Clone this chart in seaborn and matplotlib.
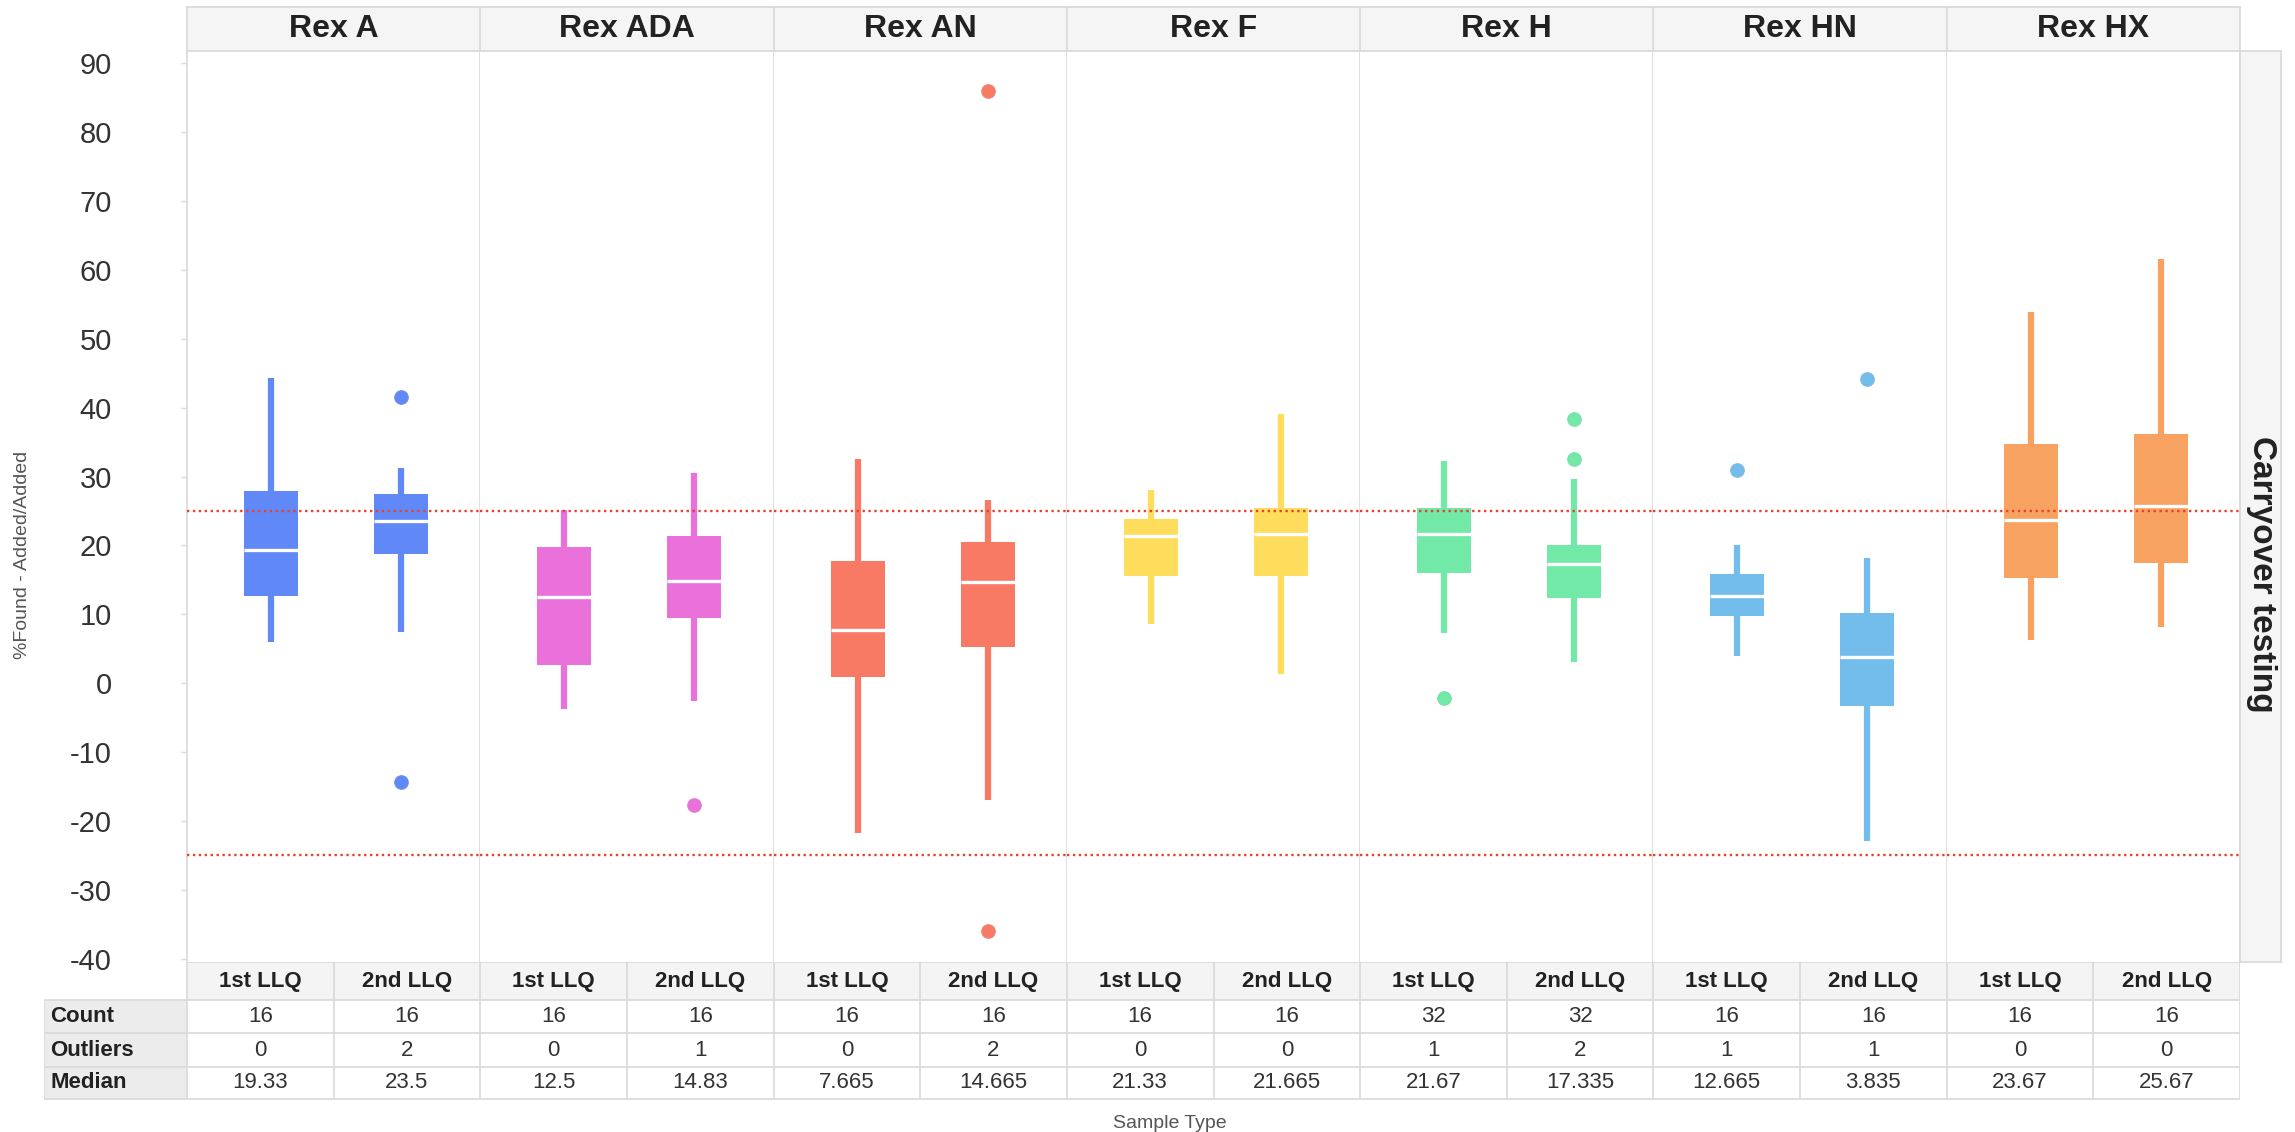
import numpy as np
import pandas as pd
import matplotlib
matplotlib.use("Agg")
import matplotlib.pyplot as plt
from matplotlib.patches import Rectangle
import seaborn as sns

# data
groups = ["Rex A", "Rex ADA", "Rex AN", "Rex F", "Rex H", "Rex HN", "Rex HX"]
sampleTypes = ["1st LLQ", "2nd LLQ"]
colors = ["#6088F6", "#EA70DA", "#F97A64", "#FEDD5C", "#72E9A6", "#72BDEC", "#F8A262"]

# per group: [1st LLQ, 2nd LLQ]
whiskerLow = [[5.9, 7.4], [-3.8, -2.6], [-21.7, -17.0], [8.6, 1.3], [7.3, 3.0], [3.9, -23.0], [6.3, 8.2]]
q1 = [[12.6, 18.8], [2.6, 9.5], [0.9, 5.2], [15.5, 15.5], [16.0, 12.3], [9.7, -3.3], [15.3, 17.4]]
medians = [[19.33, 23.5], [12.5, 14.83], [7.665, 14.665], [21.33, 21.665], [21.67, 17.335], [12.665, 3.835], [23.67, 25.67]]
q3 = [[27.9, 27.4], [19.7, 21.4], [17.7, 20.5], [23.9, 25.4], [25.4, 20.0], [15.9, 10.2], [34.7, 36.2]]
whiskerHigh = [[44.3, 31.2], [25.1, 30.5], [32.6, 26.6], [28.0, 39.1], [32.2, 29.7], [20.0, 18.1], [53.9, 61.6]]
outliers = [[[], [41.5, -14.4]], [[], [-17.7]], [[], [86.0, -36.0]], [[], []],
            [[-2.2], [38.3, 32.6]], [[30.9], [44.1]], [[], []]]
counts = [[16, 16], [16, 16], [16, 16], [16, 16], [32, 32], [16, 16], [16, 16]]
outlierCounts = [[0, 2], [0, 1], [0, 2], [0, 0], [1, 2], [1, 1], [0, 0]]
refLines = [25, -25]
yTicks = list(range(-40, 91, 10))

# outlier points as a frame
rows = []
for g, grp in enumerate(groups):
    for s in range(len(sampleTypes)):
        for v in outliers[g][s]:
            rows.append({"group": grp, "pos": s, "value": v})
outlierData = pd.DataFrame(rows)

sns.set_theme(style="white")
plt.rcParams["font.family"] = ["Liberation Sans", "DejaVu Sans"]
plt.rcParams["axes.unicode_minus"] = False

W, H = 2295, 1132
fig = plt.figure(figsize=(W / 100, H / 100), dpi=100)

def pxAxes(x0, y0, x1, y1):
    return fig.add_axes([x0 / W, 1 - y1 / H, (x1 - x0) / W, (y1 - y0) / H])

left, right, top, bottom = 187, 2240, 51, 962
facetW = (right - left) / len(groups)
lineGray = "#D9D9D9"

# panes
for g, grp in enumerate(groups):
    ax = pxAxes(left + g * facetW, top, left + (g + 1) * facetW, bottom)
    col = colors[g]
    stats = []
    for s in range(len(sampleTypes)):
        stats.append(dict(whislo=whiskerLow[g][s], q1=q1[g][s], med=medians[g][s],
                          q3=q3[g][s], whishi=whiskerHigh[g][s], fliers=[]))
    ax.bxp(stats, positions=[0, 1], widths=0.415, patch_artist=True,
           showcaps=False, showfliers=False,
           boxprops=dict(facecolor=col, edgecolor=col, linewidth=0),
           whiskerprops=dict(color=col, linewidth=4.5, solid_capstyle="butt"),
           medianprops=dict(color="white", linewidth=2.4))
    sub = outlierData[outlierData["group"] == grp]
    if len(sub):
        sns.scatterplot(data=sub, x="pos", y="value", color=col, s=95,
                        edgecolor=sns.desaturate(col, 0.8), linewidth=0.8,
                        ax=ax, zorder=4, legend=False)
    for ref in refLines:
        ax.axhline(ref, color="#E5432D", lw=1.7, ls=(0, (1, 1.5)), zorder=6)
    ax.set_xlim(-0.646, 1.61)
    ax.set_ylim(-40.5, 91.8)
    ax.set_xticks([])
    ax.set_yticks(yTicks)
    ax.set_xlabel("")
    ax.set_ylabel("")
    ax.set_facecolor("white")
    for sp in ax.spines.values():
        sp.set_color(lineGray)
        sp.set_linewidth(1.2)
    ax.spines["top"].set_visible(False)
    ax.spines["bottom"].set_visible(False)
    if g == 0:
        ax.tick_params(axis="y", labelsize=21, pad=50, length=4, width=1,
                       color=lineGray, labelcolor="#333333", left=True)
    else:
        ax.tick_params(axis="y", left=False, labelleft=False)
        ax.spines["left"].set_visible(False)

# column header strip
hdr = pxAxes(left, 7, right, top)
hdr.set_xlim(0, len(groups))
hdr.set_ylim(0, 1)
hdr.set_facecolor("#F5F5F5")
hdr.set_xticks([])
hdr.set_yticks([])
for sp in hdr.spines.values():
    sp.set_color(lineGray)
for g, grp in enumerate(groups):
    hdr.text(g + 0.5, 0.5, grp, ha="center", va="center", fontsize=23,
             fontweight="bold", color="#222222")
    if g > 0:
        hdr.axvline(g, color=lineGray, lw=1.2)

# row header strip
rh = pxAxes(right, top, 2281, bottom)
rh.set_facecolor("#F5F5F5")
rh.set_xticks([])
rh.set_yticks([])
for sp in rh.spines.values():
    sp.set_color(lineGray)
fig.text(2262 / W, 1 - 574 / H, "Carryover testing", rotation=-90, ha="center",
         va="center", fontsize=24, fontweight="bold", color="#222222")

# table under the panes
tb = pxAxes(44, bottom, right, 1100)
tb.set_xlim(44, right)
tb.set_ylim(1100, bottom)
tb.axis("off")
cellW = (right - left) / (len(groups) * len(sampleTypes))
rowEdges = [bottom, 1000, 1033, 1067, 1099]
tb.add_patch(Rectangle((left, bottom), right - left, 1000 - bottom, color="#F4F4F4", lw=0))
tb.add_patch(Rectangle((44, 1000), left - 44, 1099 - 1000, color="#ECECEC", lw=0))
tb.hlines(rowEdges[0], left, right, color=lineGray, lw=1.2)
tb.hlines(rowEdges[1:], 44, right, color=lineGray, lw=1.2)
tb.vlines([left + k * cellW for k in range(len(groups) * 2 + 1)], bottom, 1099, color=lineGray, lw=1.2)
tb.vlines(44, 1000, 1099, color=lineGray, lw=1.2)

rowLabels = ["Count", "Outliers", "Median"]
for r, lab in enumerate(rowLabels):
    yc = (rowEdges[r + 1] + rowEdges[r + 2]) / 2
    tb.text(50, yc, lab, ha="left", va="center", fontsize=16, fontweight="bold", color="#222222")

for g in range(len(groups)):
    for s, st in enumerate(sampleTypes):
        xc = left + (g * 2 + s + 0.5) * cellW
        tb.text(xc, (rowEdges[0] + rowEdges[1]) / 2, st, ha="center", va="center",
                fontsize=16, fontweight="bold", color="#222222")
        vals = [str(counts[g][s]), str(outlierCounts[g][s]), f"{medians[g][s]:g}"]
        for r, v in enumerate(vals):
            yc = (rowEdges[r + 1] + rowEdges[r + 2]) / 2
            tb.text(xc, yc, v, ha="center", va="center", fontsize=16, color="#333333")

# axis titles
fig.text(23 / W, 1 - 555 / H, "%Found - Added/Added", rotation=90, ha="center",
         va="center", fontsize=14, color="#555555")
fig.text(1170 / W, 1 - 1123 / H, "Sample Type", ha="center", va="center",
         fontsize=14, color="#555555")

fig.savefig("out.png", dpi=100, facecolor="white")
